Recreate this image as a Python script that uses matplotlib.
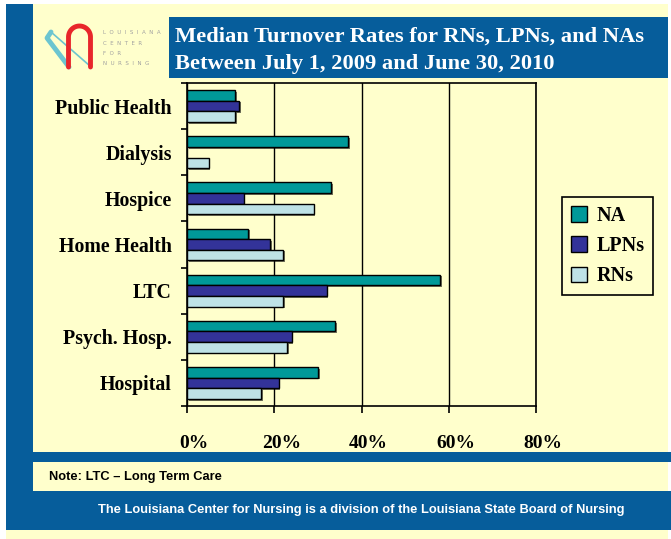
import numpy as np
import matplotlib
matplotlib.use('Agg')
from matplotlib import pyplot as plt
from matplotlib import patheffects as pe
from matplotlib import transforms as mtrans
from matplotlib.patches import Rectangle

# data, bottom to top as drawn
categories = ['Hospital', 'Psych. Hosp.', 'LTC', 'Home Health', 'Hospice', 'Dialysis', 'Public Health']
na = [30, 34, 58, 14, 33, 37, 11]
lpns = [21, 24, 32, 19, 13, np.nan, 12]
rns = [17, 23, 22, 22, 29, 5, 11]
xticks = [0, 20, 40, 60, 80]
xticklabels = ['0%', '20%', '40%', '60%', '80%']

YELLOW = '#FFFFCC'
BLUE = '#065D9B'
SERIF = 'Liberation Serif'
SANS = 'Liberation Sans'


def main():
    fig = plt.figure(figsize=(6.71, 5.39), dpi=100)
    fig.patch.set_facecolor('white')

    # background / frame in pixel coords
    bg = fig.add_axes([0, 0, 1, 1], zorder=0)
    bg.set_xlim(0, 671)
    bg.set_ylim(539, 0)
    bg.axis('off')
    bg.add_patch(Rectangle((6, 4), 662, 535, color=YELLOW, lw=0))
    bg.add_patch(Rectangle((6, 4), 27, 526, color=BLUE, lw=0))
    bg.add_patch(Rectangle((169, 17), 499, 61, color=BLUE, lw=0))
    bg.add_patch(Rectangle((33, 452), 638, 10, color=BLUE, lw=0))
    bg.add_patch(Rectangle((33, 491), 638, 39, color=BLUE, lw=0))

    # logo
    t = np.linspace(np.pi, 0, 40)
    arch_x = np.concatenate([[68.5], 79.5 + 11 * np.cos(t), [90.5]])
    arch_y = np.concatenate([[67], 37 - 11 * np.sin(t), [67]])
    bg.plot([51, 47, 69], [32, 38, 67], color='#6CC5D0', lw=3.5, solid_capstyle='round')
    bg.plot([51, 90], [32, 66], color='#6CC5D0', lw=1.2, solid_capstyle='round')
    bg.plot(arch_x, arch_y, color='#E8262B', lw=3.5, solid_capstyle='round')
    for i, word in enumerate(['LOUISIANA', 'CENTER', 'FOR', 'NURSING']):
        bg.text(103, 33 + i * 10.2, '  '.join(word), fontsize=4, color='#A0A0A0',
                va='center', ha='left')

    # title
    bg.text(175, 37, 'Median Turnover Rates for RNs, LPNs, and NAs', color='white',
            fontsize=16.2, fontweight='bold', family=SERIF, va='center')
    bg.text(175, 64, 'Between July 1, 2009 and June 30, 2010', color='white',
            fontsize=16.2, fontweight='bold', family=SERIF, va='center')

    # footer texts
    bg.text(49, 477, 'Note: LTC \u2013 Long Term Care', fontsize=9.3, fontweight='bold',
            family=SANS, va='center')
    bg.text(361, 510, 'The Louisiana Center for Nursing is a division of the Louisiana State Board of Nursing',
            fontsize=9.3, fontweight='bold', family=SANS, color='white', va='center', ha='center')

    # chart
    ax = fig.add_axes([187 / 671, 1 - 406 / 539, 349 / 671, 323 / 539], zorder=2)
    ax.set_facecolor(YELLOW)
    y = np.arange(len(categories))
    h = 0.23
    shadow = [pe.SimplePatchShadow(offset=(1.2, -1.2), shadow_rgbFace='k', alpha=0.55), pe.Normal()]
    series = [(na, h, '#009999', 'NA'), (lpns, 0, '#333399', 'LPNs'), (rns, -h, '#BEE2E6', 'RNs')]
    for vals, off, col, lab in series:
        bars = ax.barh(y + off, vals, height=h, color=col, edgecolor='black', linewidth=1.0,
                       label=lab, zorder=3)
        for b in bars:
            b.set_path_effects(shadow)

    ax.set_xlim(0, 80)
    ax.set_ylim(-0.5, len(categories) - 0.5)
    ax.set_xticks(xticks)
    ax.set_xticklabels(xticklabels, fontsize=14, fontweight='bold', family=SERIF)
    ax.set_yticks(y)
    ax.set_yticklabels(categories, fontsize=14.3, fontweight='bold', family=SERIF)
    ax.set_yticks(np.arange(-0.5, len(categories), 1), minor=True)
    ax.tick_params(axis='y', which='major', length=0, pad=11)
    ax.tick_params(axis='y', which='minor', length=4, width=1.2, direction='out')
    ax.tick_params(axis='x', length=5, width=1.2, direction='out', pad=16)
    off = mtrans.ScaledTranslation(7 / 100, 0, fig.dpi_scale_trans)
    for lbl in ax.get_xticklabels():
        lbl.set_transform(lbl.get_transform() + off)
    ax.grid(True, axis='x', color='k', linewidth=1.0)
    ax.set_axisbelow(True)
    for s in ax.spines.values():
        s.set_linewidth(1.2)

    leg = fig.legend(loc='upper left', bbox_to_anchor=(562 / 671, 1 - 197 / 539),
                     prop={'family': SERIF, 'weight': 'bold', 'size': 14.5},
                     frameon=True, fancybox=False, edgecolor='black', facecolor=YELLOW,
                     handlelength=0.8, handleheight=0.8, handletextpad=0.45,
                     labelspacing=0.5, borderpad=0.45, borderaxespad=0)
    leg.get_frame().set_linewidth(1.2)
    leg.get_frame().set_alpha(1)
    for p in leg.get_patches():
        p.set_path_effects([])

    fig.savefig('out.png', dpi=100, facecolor=fig.get_facecolor())


if __name__ == '__main__':
    main()
